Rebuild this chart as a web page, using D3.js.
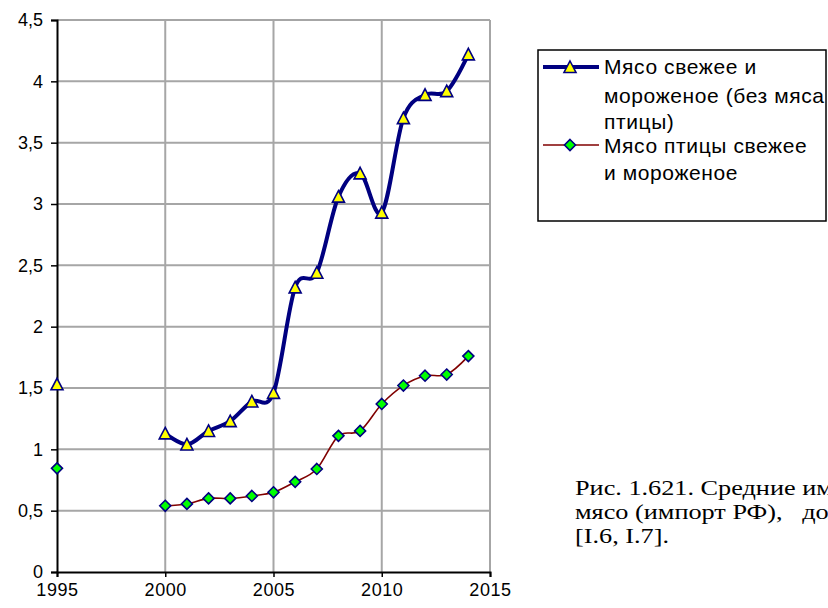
<!DOCTYPE html>
<html><head><meta charset="utf-8">
<script src="https://cdn.jsdelivr.net/npm/d3@7"></script>
<style>body{margin:0;background:#fff}svg{display:block}</style>
</head><body>
<svg id="c" width="828" height="608"></svg>
<script>
const years = [1995,2000,2001,2002,2003,2004,2005,2006,2007,2008,2009,2010,2011,2012,2013,2014];
const meat = [1.53,1.13,1.04,1.15,1.23,1.39,1.46,2.32,2.44,3.06,3.25,2.93,3.70,3.89,3.92,4.22];
const poultry = [0.845,0.54,0.555,0.60,0.60,0.62,0.65,0.735,0.84,1.11,1.15,1.37,1.52,1.60,1.61,1.76];
const xTicks = [1995,2000,2005,2010,2015];
const yTicks = [0,0.5,1,1.5,2,2.5,3,3.5,4,4.5];
const legendLabels = [["Мясо свежее и","мороженое (без мяса","птицы)"],["Мясо птицы свежее","и мороженое"]];
const caption = ["Рис. 1.621. Средние импортные цены на","мясо (импорт РФ),   долларов США за кг","[I.6, I.7]."];

const svg = d3.select("#c");
const x = d3.scaleLinear().domain([1995,2015]).range([57,490]);
const y = d3.scaleLinear().domain([0,4.5]).range([572,20]);
const grid = "#a6a6a6";

// gridlines
svg.append("g").selectAll("line").data(yTicks.filter(d=>d>0)).join("line")
  .attr("x1",x(1995)).attr("x2",x(2015)).attr("y1",d=>y(d)).attr("y2",d=>y(d))
  .attr("stroke",grid).attr("stroke-width",2);
svg.append("g").selectAll("line").data(xTicks.filter(d=>d>1995)).join("line")
  .attr("x1",d=>x(d)).attr("x2",d=>x(d)).attr("y1",y(0)).attr("y2",y(4.5))
  .attr("stroke",grid).attr("stroke-width",2);

// axes
const yAxis = svg.append("g").attr("transform",`translate(${x(1995)},0)`)
  .call(d3.axisLeft(y).tickValues(yTicks).tickSize(6).tickPadding(8)
    .tickFormat(d=>String(d).replace(".",",")));
const xAxis = svg.append("g").attr("transform",`translate(0,${y(0)})`)
  .call(d3.axisBottom(x).tickValues(xTicks).tickSize(5).tickPadding(6).tickFormat(d3.format("d")));
[yAxis,xAxis].forEach(a=>{
  a.select(".domain").attr("stroke","#000").attr("stroke-width",2);
  a.selectAll(".tick line").attr("stroke","#000").attr("stroke-width",1.5);
  a.selectAll("text").attr("fill","#000").style("font-family","Liberation Sans, Arial, sans-serif").style("font-size","18px");
});
xAxis.selectAll("text").style("letter-spacing","0.6px");

const pts = (vals)=> years.map((yr,i)=>({yr,v:vals[i]}));
const line = d3.line().x(d=>x(d.yr)).y(d=>y(d.v)).curve(d3.curveCardinal.tension(0));

function tri(g, cx, cy){
  g.append("path").attr("d",`M${cx},${cy-6}L${cx+6},${cy+5.5}L${cx-6},${cy+5.5}Z`)
   .attr("fill","#ffff00").attr("stroke","#000080").attr("stroke-width",1.6);
}
function dia(g, cx, cy){
  g.append("path").attr("d",`M${cx},${cy-5.5}L${cx+5.5},${cy}L${cx},${cy+5.5}L${cx-5.5},${cy}Z`)
   .attr("fill","#00ff00").attr("stroke","#000080").attr("stroke-width",1.6);
}

// poultry
const pP = pts(poultry);
svg.append("path").datum(pP.filter(d=>d.yr>=2000)).attr("d",line)
  .attr("fill","none").attr("stroke","#800000").attr("stroke-width",1.6);
// meat
const mP = pts(meat);
svg.append("path").datum(mP.filter(d=>d.yr>=2000)).attr("d",line)
  .attr("fill","none").attr("stroke","#000080").attr("stroke-width",4);

const gm = svg.append("g");
mP.forEach(d=>tri(gm, x(d.yr), y(d.v)));
const gp = svg.append("g");
pP.forEach(d=>dia(gp, x(d.yr), y(d.v)));

// legend
const lg = svg.append("g");
lg.append("rect").attr("x",538).attr("y",50).attr("width",288).attr("height",171)
  .attr("fill","#fff").attr("stroke","#000").attr("stroke-width",1.5);
svg.append("clipPath").attr("id","lc").append("rect").attr("x",538).attr("y",50).attr("width",287).attr("height",171);
lg.append("line").attr("x1",543).attr("x2",599).attr("y1",67).attr("y2",67).attr("stroke","#000080").attr("stroke-width",4);
tri(lg,570,67);
lg.append("line").attr("x1",543).attr("x2",599).attr("y1",145).attr("y2",145).attr("stroke","#800000").attr("stroke-width",1.6);
dia(lg,570,145);
const lt = lg.append("g").attr("clip-path","url(#lc)")
  .style("font-family","Liberation Sans, Arial, sans-serif").style("font-size","21px")
  .style("letter-spacing","0.6px").attr("fill","#000");
const lineYs = [[74,103,129],[153,180]];
legendLabels.forEach((ls,i)=>ls.forEach((t,j)=>lt.append("text").attr("x",604).attr("y",lineYs[i][j]).text(t)));

// caption (horizontally stretched serif, clipped by the page edge as in the source)
const cg = svg.append("g").style("font-family","Liberation Serif, Times New Roman, serif").style("font-size","21px").attr("fill","#000");
caption.forEach((t,i)=>cg.append("text").attr("transform",`translate(575,${495+i*24}) scale(1.25,1)`)
  .attr("xml:space","preserve").style("white-space","pre").text(t));
</script>
</body></html>
